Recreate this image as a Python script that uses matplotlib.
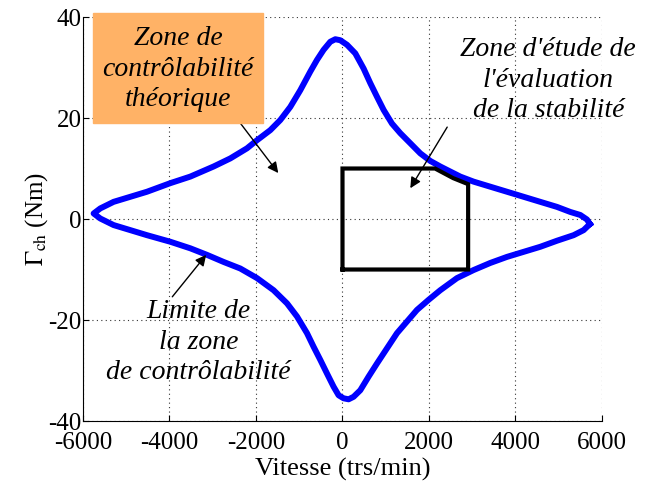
import matplotlib
matplotlib.use('Agg')
from matplotlib import pyplot as plt
from matplotlib.patches import Rectangle

plt.rcParams['font.family'] = ['Liberation Serif', 'DejaVu Serif']
plt.rcParams['mathtext.fontset'] = 'stix'
plt.rcParams['axes.unicode_minus'] = False

# limit of the controllability zone (speed in trs/min, torque in Nm)
limite_x = [5720, 5653, 5498, 5267, 4959, 4573, 4188, 3803, 3417, 3032, 2724, 2492,
            2261, 2030, 1799, 1568, 1336, 1144, 951, 798, 643, 488, 296, 104, -51,
            -166, -282, -437, -590, -744, -976, -1207, -1438, -1669, -1977, -2208,
            -2594, -2980, -3519, -3982, -4521, -4906, -5292, -5600, -5754,
            -5600, -5292, -4906, -4521, -3982, -3519, -3133, -2749, -2363, -1977,
            -1593, -1283, -1052, -821, -668, -513, -358, -206, -90,
            25, 141, 257, 412, 604, 798, 1029, 1260, 1491, 1722, 1991, 2261, 2647,
            3032, 3417, 3803, 4188, 4573, 4959, 5344, 5575, 5720]
limite_y = [-1.0, -0.1, 0.8, 1.4, 2.4, 3.4, 4.4, 5.4, 6.4, 7.4, 8.4, 9.4,
            10.4, 11.5, 13.0, 15.0, 17.0, 18.9, 21.6, 24.2, 26.9, 29.8, 32.8, 34.5, 35.4,
            35.6, 35.1, 33.5, 31.5, 29.2, 25.5, 22.2, 19.6, 17.6, 15.6, 14.0,
            12.0, 10.4, 8.4, 7.1, 5.4, 4.4, 3.4, 2.1, 1.1,
            0.1, -1.2, -2.2, -3.2, -4.5, -5.8, -7.1, -8.5, -9.8, -11.7,
            -14.1, -16.7, -19.3, -22.6, -25.3, -27.9, -30.6, -33.2, -34.9,
            -35.5, -35.7, -35.2, -33.9, -31.2, -28.6, -25.6, -22.6, -20.3, -18.0, -16.0, -14.1, -11.7,
            -10.1, -8.7, -7.5, -6.5, -5.5, -4.3, -3.2, -2.2, -1.0]

# study zone for the stability evaluation
etude_x = [0, 0, 2140, 2558, 2905, 2905, 0]
etude_y = [-10, 10, 10, 8.1, 6.9, -10, -10]

xticks = [-6000, -4000, -2000, 0, 2000, 4000, 6000]
yticks = [-40, -20, 0, 20, 40]

fig = plt.figure(figsize=(6.52, 4.86), dpi=100)
ax = fig.add_axes([0.1273, 0.1337, 0.796, 0.8313])

ax.plot(limite_x, limite_y, color='#0000FF', lw=4.3, solid_joinstyle='round', zorder=3)
ax.plot(etude_x, etude_y, color='black', lw=3.0, solid_joinstyle='miter', zorder=4)

ax.set_xlim(-6000, 6000)
ax.set_ylim(-40, 40)
ax.set_xticks(xticks)
ax.set_yticks(yticks)
ax.grid(True, linestyle=(0, (1, 3)), color='0.2', lw=0.8)
ax.spines['top'].set_visible(False)
ax.spines['right'].set_visible(False)
ax.tick_params(direction='in', length=4, labelsize=18, width=0.8)
ax.tick_params(axis='x', pad=8)
ax.tick_params(axis='y', pad=1)
ax.set_xlabel('Vitesse (trs/min)', fontsize=19, labelpad=3)
ax.set_ylabel(r'$\Gamma_{\rm ch}$ (Nm)', fontsize=18, labelpad=-1)

txt = dict(fontsize=20, style='italic', ha='center', va='center', linespacing=1.3)
arrow = dict(arrowstyle='-|>', color='black', lw=1, mutation_scale=16, shrinkA=0, shrinkB=0)

# orange label box
fig.patches.append(Rectangle((93 / 652, 1 - 123 / 486), 170 / 652, 110 / 486,
                             transform=fig.transFigure, color='#FFB266', zorder=5))
fig.text(178 / 652, 1 - 69 / 486, 'Zone de\ncontrôlabilité\nthéorique', zorder=6, **txt)
ax.annotate('', xy=(-1485, 9.1), xytext=(-2364, 19.0), arrowprops=arrow, zorder=6)

ax.text(4758, 27.5, "Zone d'étude de\nl'évaluation\nde la stabilité", zorder=6, **txt)
ax.annotate('', xy=(1568, 6.1), xytext=(2421, 18.2), arrowprops=arrow, zorder=6)

ax.text(-3334, -24.4, 'Limite de\nla zone\nde contrôlabilité', zorder=6, **txt)
ax.annotate('', xy=(-3152, -7.1), xytext=(-3935, -15.4), arrowprops=arrow, zorder=6)

fig.savefig('out.png', dpi=100)
